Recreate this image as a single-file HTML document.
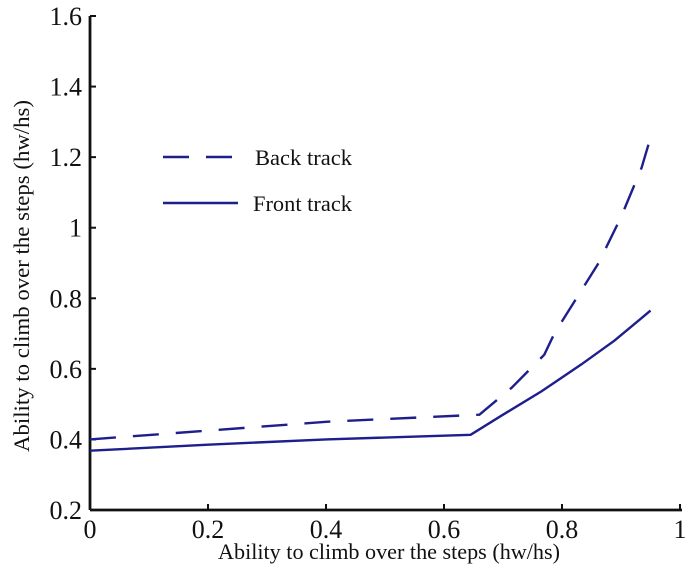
<!DOCTYPE html>
<html><head><meta charset="utf-8"><style>
body{margin:0;background:#fff;}
svg text{font-family:"Liberation Serif",serif;fill:#111;}
</style></head><body>
<svg id="chart" width="700" height="581" viewBox="0 0 700 581" xmlns="http://www.w3.org/2000/svg">
<g id="axes"></g>
<g id="series"></g>
<g id="legend">
  <line x1="163" y1="157" x2="238" y2="157" stroke="#1e1e8c" stroke-width="2.4" stroke-dasharray="26,17"/>
  <text x="255" y="165" font-size="22" textLength="97" lengthAdjust="spacingAndGlyphs">Back track</text>
  <line x1="163" y1="203" x2="238" y2="203" stroke="#1e1e8c" stroke-width="2.4"/>
  <text x="253" y="211" font-size="22" textLength="99" lengthAdjust="spacingAndGlyphs">Front track</text>
</g>
<text x="218" y="559" font-size="22" textLength="342" lengthAdjust="spacingAndGlyphs">Ability to climb over the steps (hw/hs)</text>
<text transform="translate(29,276) rotate(-90)" font-size="22" text-anchor="middle" textLength="352" lengthAdjust="spacingAndGlyphs">Ability to climb over the steps (hw/hs)</text>
</svg>
<script>
const xTicks=[0,0.2,0.4,0.6,0.8,1];
const xTickLabels=["0","0.2","0.4","0.6","0.8","1"];
const yTicks=[0.2,0.4,0.6,0.8,1,1.2,1.4,1.6];
const yTickLabels=["0.2","0.4","0.6","0.8","1","1.2","1.4","1.6"];
const backX=[0,0.2,0.4,0.66,0.715,0.77,0.787,0.862,0.9,0.935,0.95];
const backY=[0.40,0.425,0.45,0.47,0.547,0.64,0.70,0.90,1.03,1.17,1.255];
const frontX=[0,0.2,0.4,0.645,0.7,0.765,0.833,0.889,0.95];
const frontY=[0.368,0.385,0.40,0.413,0.47,0.536,0.613,0.68,0.765];

const X0=90,X1=680,Y0=510,Y1=16;
const sx=v=>X0+(v-0)/(1-0)*(X1-X0);
const sy=v=>Y0-(v-0.2)/(1.6-0.2)*(Y0-Y1);
const NS="http://www.w3.org/2000/svg";
const axes=document.getElementById('axes');
const series=document.getElementById('series');
function mk(tag,attrs,parent){const e=document.createElementNS(NS,tag);for(const k in attrs)e.setAttribute(k,attrs[k]);parent.appendChild(e);return e;}

const xa=mk('line',{x1:X0,y1:Y0,x2:X1+2,y2:Y0,stroke:'#111','stroke-width':2.8},axes);


const ya=mk('line',{x1:X0,y1:Y0,x2:X0,y2:Y1,stroke:'#111','stroke-width':2.8},axes);



xTicks.forEach((v,i)=>{
  const x=sx(v);
  const t=mk('line',{x1:x,y1:Y0,x2:x,y2:Y0-6,stroke:'#111','stroke-width':2},axes);
  
  
  const l=mk('text',{x:x,y:Y0+28,'font-size':26,'text-anchor':'middle'},axes);
  l.textContent=xTickLabels[i];
  
  
});
yTicks.forEach((v,i)=>{
  const y=sy(v);
  const t=mk('line',{x1:X0,y1:y,x2:X0+6,y2:y,stroke:'#111','stroke-width':2},axes);
  
  
  const l=mk('text',{x:X0-8,y:y+9,'font-size':26,'text-anchor':'end'},axes);
  l.textContent=yTickLabels[i];
  
  
});
function path(xs,ys){return xs.map((x,i)=>(i?'L':'M')+sx(x).toFixed(1)+','+sy(ys[i]).toFixed(1)).join(' ');}
const b=mk('path',{d:path(backX,backY),fill:'none',stroke:'#1e1e8c','stroke-width':2.4,'stroke-dasharray':'26,17'},series);


const f=mk('path',{d:path(frontX,frontY),fill:'none',stroke:'#1e1e8c','stroke-width':2.4},series);


</script>
</body></html>
